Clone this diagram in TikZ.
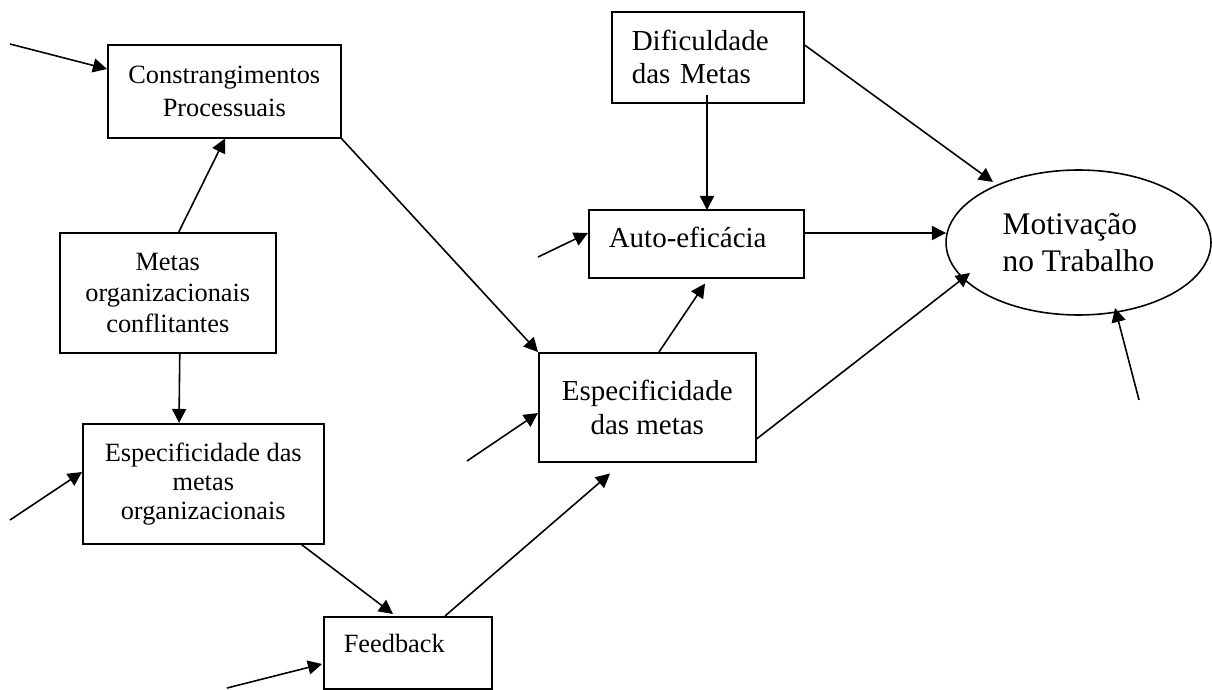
\documentclass[tikz,border=0pt]{standalone}
\usepackage{fontspec}
\setmainfont{Liberation Serif}
\usetikzlibrary{positioning, arrows.meta, shapes.geometric, calc}

\tikzset{
	box/.style={draw, rectangle, line width=0.9pt, align=center, inner sep=0pt},
	lbox/.style={draw, rectangle, line width=0.9pt, align=left, inner xsep=0.4cm, inner ysep=0pt},
	txtsmall/.style={font=\fontsize{15pt}{17.6pt}\selectfont},
	txtmid/.style={font=\fontsize{16.5pt}{18.8pt}\selectfont},
	txtbig/.style={font=\fontsize{17.9pt}{21pt}\selectfont},
	link/.style={-{Triangle[length=8pt, width=8pt]}, line width=0.9pt},
}

\begin{document}
\begin{tikzpicture}[x=0.02cm, y=-0.02cm]
	\useasboundingbox (0,0) rectangle (1212,689);
	
	% Define nodes
	\node [box, txtsmall, anchor=north west, minimum width=4.66cm, minimum height=1.86cm, font=\fontsize{15pt}{18.8pt}\selectfont] (constr) at (107,44) {Constrangimentos\\Processuais};
	\node [box, txtsmall, anchor=north west, minimum width=4.32cm, minimum height=2.4cm] (metas) at (59,232) {Metas\\organizacionais\\conflitantes};
	\node [box, txtsmall, anchor=north west, minimum width=4.82cm, minimum height=2.4cm, font=\fontsize{15pt}{16.5pt}\selectfont] (esporg) at (82,423) {Especificidade das\\metas\\organizacionais};
	\node [lbox, txtsmall, anchor=north west, text width=2.56cm, minimum height=1.44cm, text depth=11pt] (feedback) at (323,616) {Feedback};
	\node [box, txtmid, anchor=north west, minimum width=4.34cm, minimum height=2.18cm, font=\fontsize{16.5pt}{19.3pt}\selectfont] (espmid) at (538,352) {Especificidade\\das metas};
	\node [lbox, txtmid, anchor=north west, text width=3.5cm, minimum height=1.36cm, text depth=7pt] (auto) at (588,209) {Auto-eficácia};
	\node [lbox, txtmid, anchor=north west, text width=3.04cm, minimum height=1.82cm] (dif) at (611,11) {Dificuldade\\das Metas};
	\node [draw, ellipse, txtbig, line width=0.9pt, align=left, inner sep=0pt, minimum width=5.3cm, minimum height=2.9cm] (mot) at (1078.5,242.5) {Motivação\\no Trabalho};
	
	% Loose arrow tails
	\coordinate (inconstr) at (10,44);
	\coordinate (inesporg) at (10,520);
	\coordinate (infeed) at (227,688);
	\coordinate (inespmid) at (467,461);
	\coordinate (inauto) at (538,257);
	\coordinate (inmot) at (1139,400);
	
	% Arrows between blocks
	\draw[link] (inconstr) -- ($(constr.north west)+(0,25)$);
	\draw[link] ($(metas.north)+(11,0)$) -- ($(constr.south west)+(118,0)$);
	\draw[link] ($(metas.south)+(12,0)$) -- ($(esporg.north west)+(97,0)$);
	\draw[link] (inesporg) -- ($(esporg.north west)+(0,49)$);
	\draw[link] ($(esporg.south east)+(-23,0)$) -- ($(feedback.north west)+(70,-2)$);
	\draw[link] (infeed) -- ($(feedback.north west)+(-1,48)$);
	\draw[link] ($(feedback.north west)+(122,0)$) -- ($(espmid.south west)+(72,11)$);
	\draw[link] (constr.south east) -- (espmid.north west);
	\draw[link] (inespmid) -- ($(espmid.north west)+(0,61)$);
	\draw[link] ($(espmid.north west)+(121,0)$) -- ($(auto.south west)+(117,5)$);
	\draw[link] (inauto) -- ($(auto.north west)+(0,24)$);
	\draw[link] ($(dif.south west)+(96,-9)$) -- ($(auto.north west)+(119,1)$);
	\draw[link] ($(auto.north east)+(0,24)$) -- ($(mot.center)+(-132.5,-9.5)$);
	\draw[link] ($(dif.north east)+(0,34)$) -- ($(mot.center)+(-85.5,-60.5)$);
	\draw[link] ($(espmid.north east)+(0,87)$) -- ($(mot.center)+(-108.5,30.5)$);
	\draw[link] (inmot) -- ($(mot.center)+(36.5,65.5)$);
\end{tikzpicture}
\end{document}
